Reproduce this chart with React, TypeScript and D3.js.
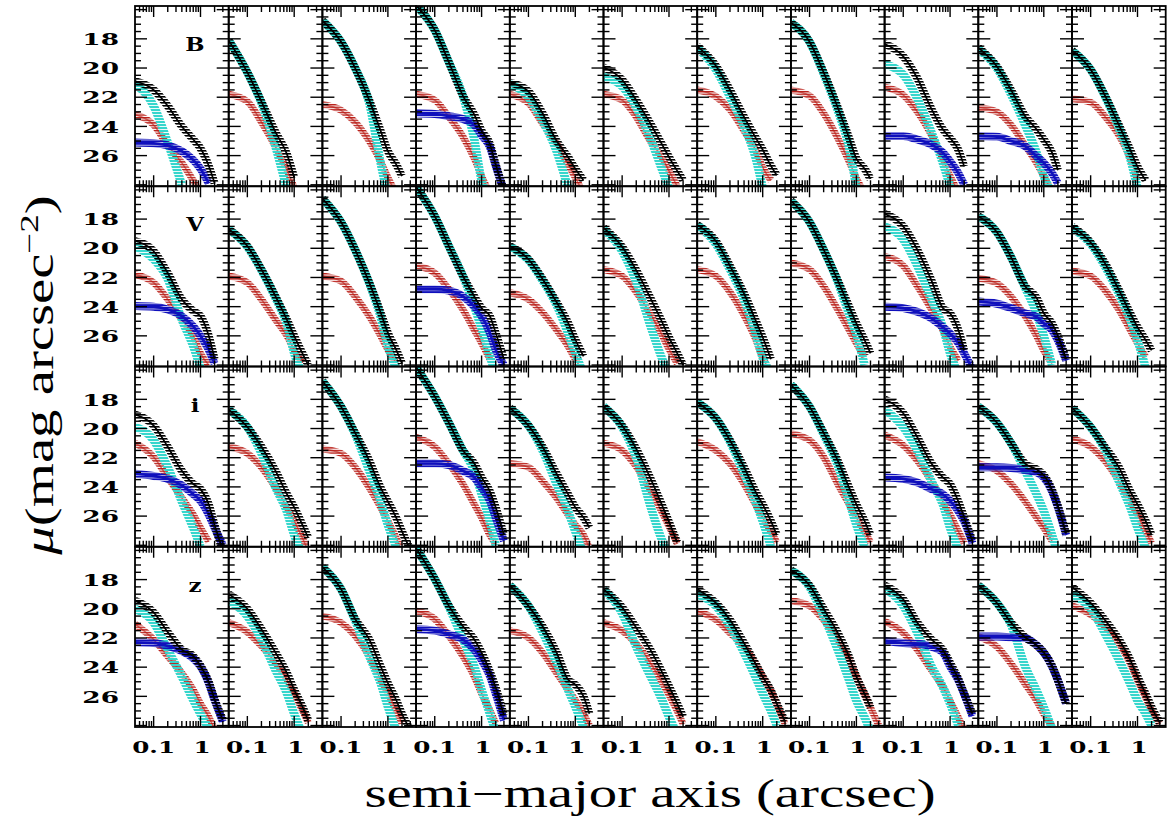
import React from "react";
import * as d3 from "d3";

// Radii (arcsec) at which every profile is sampled
const R_GRID = [0.04, 0.1, 0.2, 0.4, 0.7, 1, 1.5, 2, 3];
const BANDS = ["B", "V", "i", "z"];
const MU_TICKS = [18, 20, 22, 24, 26];
const R_LABELS: [number, string][] = [[0.1, "0.1"], [1, "1"]];
const R_DOMAIN: [number, number] = [0.04, 4];
const MU_DOMAIN: [number, number] = [15.75, 28.1];

type Prof = number[] | null;

// ---- B band ----
const B_TOTAL: Prof[] = [
  [20.9, 21.5, 22.6, 24.0, 24.9, 25.5, 26.7, 27.9],
  [18.1, 20.3, 22.3, 24.4, 25.9, 27.5],
  [16.75, 18.2, 20.0, 22.2, 24.3, 25.7, 26.6, 27.4],
  [15.7, 17.4, 19.6, 21.9, 23.2, 24.3, 25.2, 26.6, 28.4],
  [21.0, 21.6, 23.1, 25.0, 26.1, 26.9, 27.7],
  [19.95, 20.8, 22.2, 23.8, 25.2, 26.1, 27.05, 27.7],
  [18.5, 19.85, 21.5, 23.35, 24.75, 25.6, 26.7, 27.35],
  [16.9, 18.2, 20.3, 22.7, 24.8, 26.2, 26.9, 27.6],
  [18.35, 19.2, 20.7, 22.8, 24.2, 24.8, 25.6, 26.75],
  [18.6, 19.9, 21.5, 23.3, 24.2, 24.9, 25.8, 27.0],
  [18.8, 20.1, 21.85, 23.9, 25.6, 26.75, 27.7],
];
const B_COMP1: Prof[] = [
  [21.1, 22.6, 25.1, 28.0],
  [18.1, 20.3, 22.4, 25.4, 28.3],
  [16.75, 18.2, 20.0, 22.4, 26.5, 28.8],
  [15.7, 17.4, 19.6, 21.9, 24.9, 27.7, 28.8],
  [21.1, 22.0, 23.6, 25.7, 28.2],
  [20.6, 21.25, 22.7, 24.8, 26.9, 28.2],
  [18.6, 20.1, 21.95, 24.0, 26.1, 28.2],
  [16.9, 18.2, 20.4, 22.9, 25.45, 28.2],
  [19.75, 20.45, 22.1, 24.4, 26.5, 28.1],
  [18.7, 20.0, 21.8, 23.9, 25.8, 27.4, 28.6],
  [18.8, 20.1, 21.9, 24.1, 26.2, 28.2],
];
const B_COMP2: Prof[] = [
  [23.2, 23.9, 25.3, 26.5, 27.7, 28.5],
  [21.8, 22.3, 23.7, 25.4, 27.0, 28.2],
  [22.5, 22.9, 23.7, 25.0, 26.4, 27.5, 28.6],
  [21.8, 22.2, 23.35, 24.7, 26.2, 27.4, 28.6],
  [21.8, 22.4, 23.8, 25.2, 26.6, 27.5, 28.6],
  [21.8, 22.2, 23.35, 25.0, 26.1, 27.05, 28.1],
  [21.5, 21.95, 22.85, 24.3, 25.6, 26.8, 27.7],
  [21.5, 21.9, 23.1, 24.8, 26.4, 27.55, 28.6],
  [21.3, 21.85, 23.0, 24.6, 26.2, 27.4, 28.5],
  [22.7, 23.0, 23.9, 25.3, 26.5, 27.4, 28.5],
  [22.1, 22.35, 23.3, 24.6, 26.2, 27.7],
];
const B_COMP3: Prof[] = [
  [25.1, 25.15, 25.3, 25.7, 26.3, 26.9, 27.9],
  null, null,
  [23.1, 23.15, 23.3, 23.5, 23.9, 24.6, 25.4, 26.7, 28.4],
  null, null, null, null,
  [24.65, 24.65, 24.9, 25.25, 25.8, 26.4, 27.2, 28.0],
  [24.65, 24.7, 25.0, 25.35, 26.05, 26.5, 27.2, 27.9],
  null,
];

// ---- V band ----
const V_TOTAL: Prof[] = [
  [19.5, 20.2, 21.7, 23.5, 24.3, 24.65, 26.0, 27.6],
  [18.7, 19.85, 21.45, 23.3, 24.9, 26.0, 27.2, 28.0],
  [16.6, 18.2, 20.1, 22.35, 24.4, 25.8, 26.95, 27.9],
  [15.8, 17.8, 19.85, 21.9, 23.3, 24.1, 24.65, 25.8, 27.6],
  [19.85, 20.75, 22.1, 23.7, 25.1, 26.25, 27.4],
  [18.6, 19.9, 21.5, 23.4, 25.0, 26.1, 27.2, 28.0],
  [18.4, 19.5, 21.2, 23.1, 24.9, 26.1, 27.6],
  [16.75, 18.2, 20.1, 22.2, 24.0, 25.15, 26.3, 27.2],
  [17.65, 18.5, 20.1, 22.2, 24.1, 24.45, 25.6, 27.0],
  [17.8, 18.9, 20.6, 22.6, 23.4, 24.45, 25.15, 26.0, 27.6],
  [18.5, 19.6, 21.0, 22.85, 24.45, 25.4, 26.3, 27.0],
];
const V_COMP1: Prof[] = [
  [19.85, 20.75, 22.1, 24.9, 26.7, 28.2],
  [18.7, 19.9, 21.5, 23.4, 25.2, 27.2, 28.6],
  [16.6, 18.2, 20.1, 22.4, 24.7, 26.7, 28.2],
  [15.8, 17.8, 19.85, 21.9, 24.0, 25.5, 27.4, 28.6],
  [19.9, 20.8, 22.2, 23.9, 25.8, 27.2, 28.6],
  [18.7, 20.2, 22.3, 25.3, 27.5, 28.6],
  [18.4, 19.7, 21.45, 23.5, 25.8, 27.5, 28.6],
  [16.75, 18.2, 20.1, 22.3, 24.5, 25.9, 28.0],
  [18.5, 19.4, 21.2, 23.5, 25.4, 27.2, 28.6],
  [17.8, 18.9, 20.6, 22.7, 24.45, 26.0, 28.0],
  [18.6, 19.7, 21.2, 23.1, 24.9, 26.3, 28.2],
];
const V_COMP2: Prof[] = [
  [21.8, 22.35, 23.5, 24.9, 26.0, 27.2, 28.0],
  [21.9, 22.35, 23.5, 24.9, 26.0, 26.95, 27.85],
  [21.9, 22.25, 23.3, 24.65, 26.0, 26.95, 27.85],
  [21.2, 21.7, 22.8, 24.2, 25.6, 26.5, 27.6],
  [23.05, 23.5, 24.4, 25.6, 26.7, 27.6, 28.5],
  [21.45, 21.9, 23.0, 24.5, 25.9, 26.9, 27.9],
  [21.45, 21.9, 23.0, 24.6, 26.2, 27.5, 28.5],
  [21.0, 21.45, 22.6, 24.2, 25.6, 26.5, 27.45],
  [20.55, 21.2, 22.6, 24.2, 25.6, 26.75, 27.7],
  [22.05, 22.4, 23.3, 24.65, 26.0, 27.0, 27.9],
  [21.55, 21.9, 22.85, 24.2, 25.6, 26.5, 27.45],
];
const V_COMP3: Prof[] = [
  [23.95, 24.0, 24.2, 24.65, 25.35, 26.0, 26.95, 27.9],
  null, null,
  [22.8, 22.8, 22.9, 23.3, 24.0, 24.65, 25.8, 26.95, 28.0],
  null, null, null, null,
  [24.0, 24.1, 24.35, 24.8, 25.4, 25.85, 26.5, 27.2, 28.3],
  [23.65, 23.8, 24.1, 24.45, 24.7, 25.15, 25.6, 26.3, 27.7],
  null,
];

// ---- i band ----
const I_TOTAL: Prof[] = [
  [19.05, 19.8, 21.25, 22.9, 23.8, 24.15, 25.2, 26.6, 28.4],
  [18.7, 19.9, 21.25, 22.9, 24.5, 25.4, 26.6, 27.5],
  [16.75, 18.5, 20.3, 22.2, 24.05, 25.0, 26.1, 27.05, 28.3],
  [15.8, 17.8, 19.6, 21.5, 22.4, 23.35, 24.3, 25.4, 27.3],
  [18.6, 19.8, 21.25, 23.1, 24.5, 25.4, 26.1, 26.8],
  [18.5, 19.8, 21.4, 23.4, 25.2, 26.4, 27.8],
  [18.2, 19.3, 20.8, 22.65, 24.3, 25.2, 26.35, 27.3],
  [17.0, 18.5, 20.3, 22.2, 24.05, 25.2, 26.35, 27.3],
  [18.0, 18.95, 20.6, 22.4, 23.35, 23.8, 25.0, 26.1, 27.7],
  [18.5, 19.6, 21.0, 22.4, 22.8, 23.2, 24.2, 25.3, 27.2],
  [18.6, 19.9, 21.25, 22.65, 24.3, 25.2, 26.35, 27.3],
];
const I_COMP1: Prof[] = [
  [19.9, 20.8, 22.65, 25.0, 26.8, 28.1],
  [18.7, 19.9, 21.7, 24.05, 25.7, 27.3, 28.6],
  [16.75, 18.5, 20.4, 22.9, 25.0, 26.6, 28.1],
  [15.8, 17.8, 19.6, 21.5, 22.9, 24.5, 26.35, 28.0],
  [18.6, 19.8, 21.5, 23.8, 25.65, 27.05, 28.6],
  [18.5, 19.9, 22.0, 25.3, 27.6, 28.6],
  [18.2, 19.3, 20.9, 23.1, 25.0, 26.35, 28.1],
  [17.0, 18.5, 20.4, 22.5, 25.0, 26.6, 28.1],
  [18.7, 19.9, 21.5, 23.6, 25.2, 26.8, 28.3],
  [18.5, 19.6, 21.0, 22.9, 24.5, 25.65, 27.3, 28.6],
  [18.6, 19.9, 21.4, 23.6, 25.4, 26.8, 28.2],
];
const I_COMP2: Prof[] = [
  [21.0, 21.95, 23.35, 24.75, 25.9, 26.8, 27.75],
  [21.25, 21.7, 22.65, 24.05, 25.4, 26.35, 27.5, 28.4],
  [21.4, 21.7, 22.65, 24.05, 25.4, 26.35, 27.5, 28.4],
  [20.6, 21.25, 22.4, 23.8, 25.2, 26.1, 27.3, 27.9],
  [22.4, 22.65, 23.6, 24.75, 25.9, 26.6, 27.3, 28.2],
  [21.0, 21.5, 22.6, 24.2, 25.7, 26.7, 27.9],
  [20.9, 21.5, 22.4, 23.8, 25.2, 26.1, 27.05, 27.8],
  [20.35, 20.8, 21.95, 23.8, 25.2, 26.1, 27.05, 27.8],
  [20.45, 21.15, 22.2, 23.6, 25.0, 25.9, 27.05, 27.85],
  [22.4, 22.9, 23.8, 25.0, 26.1, 26.8, 27.7],
  [20.7, 21.25, 22.2, 23.6, 25.0, 25.9, 27.05, 27.85],
];
const I_COMP3: Prof[] = [
  [23.1, 23.25, 23.45, 23.9, 24.5, 24.95, 25.9, 26.8, 28.0],
  null, null,
  [22.4, 22.4, 22.5, 22.9, 23.35, 24.05, 24.95, 26.1, 27.7],
  null, null, null, null,
  [23.35, 23.45, 23.7, 24.15, 24.5, 24.95, 25.65, 26.35, 27.85],
  [22.65, 22.65, 22.7, 22.85, 23.0, 23.35, 24.3, 25.4, 27.3],
  null,
];

// ---- z band ----
const Z_TOTAL: Prof[] = [
  [19.45, 20.25, 21.6, 22.8, 23.25, 23.9, 25.0, 26.2, 27.6],
  [19.0, 20.0, 21.4, 23.0, 24.4, 25.55, 26.7, 27.65],
  [17.15, 18.65, 20.7, 22.1, 23.95, 25.1, 26.25, 27.2, 28.3],
  [15.85, 17.95, 19.8, 21.2, 22.1, 23.0, 24.3, 25.4, 27.3],
  [18.4, 19.8, 21.2, 23.0, 24.85, 25.2, 26.0, 27.2],
  [18.65, 19.9, 21.3, 22.8, 24.3, 25.3, 26.5, 27.4],
  [18.65, 19.6, 20.75, 22.35, 23.75, 24.65, 25.6, 26.5, 27.7],
  [17.35, 18.4, 20.0, 21.65, 23.3, 24.65, 25.85, 26.75],
  [18.4, 19.35, 20.95, 22.1, 22.8, 23.7, 24.8, 25.8, 27.2],
  [18.4, 19.6, 20.95, 21.95, 22.5, 23.0, 23.9, 24.9, 26.5],
  [18.5, 19.6, 20.75, 22.1, 23.5, 24.65, 25.85, 26.75, 27.8],
];
const Z_COMP1: Prof[] = [
  [20.0, 20.95, 22.8, 24.65, 26.25, 27.2, 28.2],
  [19.45, 20.5, 22.1, 24.2, 25.8, 27.2, 28.6],
  [17.15, 18.65, 20.8, 23.25, 25.1, 26.7, 28.3],
  [15.85, 17.95, 19.85, 22.1, 23.95, 25.55, 27.2, 28.4],
  [18.4, 19.8, 21.6, 23.7, 25.55, 26.7, 28.1],
  [18.7, 20.3, 22.6, 24.6, 26.2, 27.4, 28.6],
  [19.0, 19.8, 21.2, 23.0, 24.65, 25.8, 27.0, 28.0],
  [17.35, 18.5, 20.5, 22.8, 24.9, 26.3, 27.45, 28.4],
  [18.6, 19.8, 21.65, 23.95, 25.35, 26.5, 28.0],
  [18.4, 19.6, 21.1, 23.95, 25.6, 26.75, 28.2],
  [19.0, 20.0, 21.65, 23.5, 25.15, 26.3, 27.2, 28.0],
];
const Z_COMP2: Prof[] = [
  [21.05, 22.1, 23.25, 24.4, 25.55, 26.5, 27.4, 28.3],
  [20.95, 21.6, 22.55, 23.7, 24.85, 25.8, 26.95, 27.8],
  [20.5, 20.95, 21.85, 23.25, 24.85, 25.8, 26.95, 27.85],
  [20.15, 20.7, 21.85, 23.25, 24.65, 25.8, 26.95, 27.85],
  [21.5, 21.98, 23.0, 24.4, 25.55, 26.25, 27.2, 28.0],
  [20.95, 21.5, 22.4, 23.7, 25.0, 25.9, 27.0, 27.9],
  [20.15, 20.75, 21.65, 22.6, 23.75, 24.65, 25.6, 26.5, 27.9],
  [19.45, 19.8, 20.75, 22.1, 23.5, 24.65, 25.85, 26.75, 28.0],
  [20.85, 21.65, 22.8, 24.2, 25.35, 26.3, 27.45, 28.3],
  [21.9, 22.6, 23.75, 25.15, 26.3, 27.2, 28.0],
  [19.8, 20.4, 21.2, 22.35, 23.75, 24.9, 26.1, 27.0, 27.9],
];
const Z_COMP3: Prof[] = [
  [22.3, 22.35, 22.55, 22.9, 23.4, 23.95, 25.1, 26.25, 27.75],
  null, null,
  [21.4, 21.5, 21.75, 22.1, 22.8, 23.5, 24.6, 25.8, 27.65],
  null, null, null, null,
  [22.2, 22.35, 22.4, 22.6, 23.0, 23.95, 24.9, 25.85, 27.35],
  [21.9, 21.9, 21.95, 22.0, 22.5, 23.0, 23.95, 24.9, 26.5],
  null,
];

const TOTAL = [B_TOTAL, V_TOTAL, I_TOTAL, Z_TOTAL];
const COMP1 = [B_COMP1, V_COMP1, I_COMP1, Z_COMP1];
const COMP2 = [B_COMP2, V_COMP2, I_COMP2, Z_COMP2];
const COMP3 = [B_COMP3, V_COMP3, I_COMP3, Z_COMP3];

// Layout
const W = 1167;
const H = 816;
const LEFT = 135;
const TOP = 6;
const PW = 93.7;
const PH = 180.25;
const NCOL = 11;

const CYAN = "#36d6cc";
const RED = "#b81a14";
const BLUE = "#1010bc";

const MINOR_R = [0.05, 0.06, 0.07, 0.08, 0.09, 0.2, 0.3, 0.4, 0.5, 0.6, 0.7, 0.8, 0.9, 2, 3];
const MAJOR_R = [0.1, 1];
const MU_MINOR = d3.range(16, 28.01, 0.5);

const tickFont = {
  fontFamily: "'DejaVu Serif', serif",
  fontWeight: 700,
  fontSize: 17,
};

function Panel({ row, col }: { row: number; col: number }) {
  const x0 = LEFT + col * PW;
  const y0 = TOP + row * PH;
  const x = d3.scaleLog().domain(R_DOMAIN).range([x0, x0 + PW]);
  const y = d3.scaleLinear().domain(MU_DOMAIN).range([y0, y0 + PH]);
  const gen = d3
    .line<[number, number]>()
    .x((d) => x(d[0]))
    .y((d) => y(d[1]))
    .curve(d3.curveMonotoneX);
  const path = (p: Prof) => {
    if (!p) return null;
    const pts: [number, number][] = p.map((v, i) => [R_GRID[i], v]);
    return gen(pts);
  };
  const clipId = `clip-${row}-${col}`;
  const pTot = path(TOTAL[row][col]);
  const p1 = path(COMP1[row][col]);
  const p2 = path(COMP2[row][col]);
  const p3 = path(COMP3[row][col]);
  return (
    <g>
      <clipPath id={clipId}>
        <rect x={x0} y={y0} width={PW} height={PH} />
      </clipPath>
      <g clipPath={`url(#${clipId})`} fill="none" strokeLinejoin="round">
        {p2 && <path d={p2} stroke="url(#patR)" strokeWidth={7} />}
        {p2 && <path d={p2} stroke={RED} strokeOpacity={0.6} strokeWidth={1.5} />}
        {p1 && <path d={p1} stroke="url(#patC)" strokeWidth={8.5} />}
        {p3 && <path d={p3} stroke="url(#patB)" strokeWidth={8} />}
        {p3 && <path d={p3} stroke={BLUE} strokeWidth={2.6} />}
        {pTot && <path d={pTot} stroke="url(#patK)" strokeWidth={8} />}
        {pTot && <path d={pTot} stroke="#000" strokeWidth={1.7} />}
      </g>
      {/* mu ticks, both sides, pointing inward */}
      {MU_MINOR.map((m) => {
        const major = Math.abs(m % 2) < 1e-6;
        const len = major ? 12 : 6;
        const yy = y(m);
        return (
          <g key={`m${m}`} stroke="#000" strokeWidth={1.4}>
            <line x1={x0} x2={x0 + len} y1={yy} y2={yy} />
            <line x1={x0 + PW - len} x2={x0 + PW} y1={yy} y2={yy} />
          </g>
        );
      })}
      {/* radius ticks, top and bottom */}
      {[...MINOR_R.map((r) => [r, 6] as const), ...MAJOR_R.map((r) => [r, 11] as const)].map(
        ([r, len]) => {
          const xx = x(r);
          return (
            <g key={`r${r}`} stroke="#000" strokeWidth={1.4}>
              <line x1={xx} x2={xx} y1={y0} y2={y0 + len} />
              <line x1={xx} x2={xx} y1={y0 + PH - len} y2={y0 + PH} />
            </g>
          );
        }
      )}
      <rect x={x0} y={y0} width={PW} height={PH} fill="none" stroke="#000" strokeWidth={1.8} />
    </g>
  );
}

export default function App() {
  const rows = d3.range(BANDS.length);
  const cols = d3.range(NCOL);
  const yAxis = (row: number) =>
    d3.scaleLinear().domain(MU_DOMAIN).range([TOP + row * PH, TOP + (row + 1) * PH]);
  const xAxis = (col: number) =>
    d3.scaleLog().domain(R_DOMAIN).range([LEFT + col * PW, LEFT + (col + 1) * PW]);
  const bottom = TOP + BANDS.length * PH;

  return (
    <svg
      width={W}
      height={H}
      viewBox={`0 0 ${W} ${H}`}
      style={{ position: "absolute", left: 0, top: 0, background: "#fff" }}
    >
      <defs>
        <pattern id="patK" patternUnits="userSpaceOnUse" width={8} height={3}>
          <rect x={0} y={0} width={8} height={1.6} fill="#000" />
        </pattern>
        <pattern id="patC" patternUnits="userSpaceOnUse" width={8} height={3}>
          <rect x={0} y={0.9} width={8} height={2.1} fill={CYAN} />
        </pattern>
        <pattern id="patR" patternUnits="userSpaceOnUse" width={8} height={2.6}>
          <rect x={0} y={0} width={8} height={1.4} fill={RED} />
        </pattern>
        <pattern id="patB" patternUnits="userSpaceOnUse" width={8} height={2.6}>
          <rect x={0} y={0} width={8} height={1.9} fill={BLUE} />
        </pattern>
      </defs>
      <rect x={0} y={0} width={W} height={H} fill="#fff" />

      {rows.map((r) => cols.map((c) => <Panel key={`${r}-${c}`} row={r} col={c} />))}

      {/* mu tick labels */}
      {rows.map((r) => {
        const y = yAxis(r);
        return MU_TICKS.map((v) => (
          <text
            key={`yl${r}-${v}`}
            transform={`translate(119, ${y(v) + 6.2}) scale(1.55, 1)`}
            textAnchor="end"
            {...tickFont}
          >
            {v}
          </text>
        ));
      })}

      {/* radius tick labels */}
      {cols.map((c) => {
        const x = xAxis(c);
        return R_LABELS.map(([v, t]) => (
          <text
            key={`xl${c}-${t}`}
            transform={`translate(${x(v) + (v === 1 ? 1.5 : 0)}, ${bottom + 26}) scale(1.45, 1)`}
            textAnchor="middle"
            {...tickFont}
          >
            {t}
          </text>
        ));
      })}

      {/* band names */}
      {rows.map((r) => (
        <text
          key={`band${r}`}
          transform={`translate(195, ${TOP + r * PH + 45}) scale(1.2, 1)`}
          textAnchor="middle"
          fontFamily="'DejaVu Serif', serif"
          fontWeight={700}
          fontSize={19}
        >
          {BANDS[r]}
        </text>
      ))}

      {/* axis titles */}
      <text
        transform={`translate(650, 807) scale(1.42, 1)`}
        textAnchor="middle"
        fontFamily="'Liberation Serif', serif"
        fontSize={40}
      >
        semi−major axis (arcsec)
      </text>
      <text
        transform={`translate(53, 375) rotate(-90) scale(1.42, 1)`}
        textAnchor="middle"
        fontFamily="'Liberation Serif', serif"
        fontSize={40}
      >
        <tspan fontStyle="italic">μ</tspan>(mag arcsec
        <tspan dy={-15} fontSize={26}>
          −2
        </tspan>
        <tspan dy={15}>)</tspan>
      </text>
    </svg>
  );
}
